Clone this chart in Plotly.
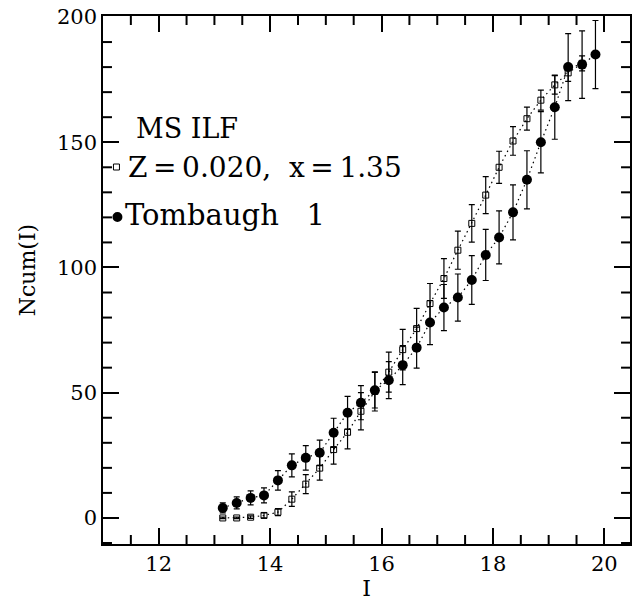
import plotly.graph_objects as go

# ---- data ----
mag = [13.15, 13.40, 13.65, 13.89, 14.14, 14.39, 14.64, 14.89, 15.14, 15.39,
       15.63, 15.88, 16.13, 16.38, 16.63, 16.87, 17.12, 17.37, 17.62, 17.87,
       18.11, 18.36, 18.61, 18.86, 19.11, 19.35, 19.60, 19.84]

tomb_n = [4, 6, 8, 9, 15, 21, 24, 26, 34, 42, 46, 51, 55, 61, 68, 78, 84, 88,
          95, 105, 112, 122, 135, 150, 164, 180, 181, 185]
tomb_err = [2.0, 2.4, 2.8, 3.0, 3.9, 4.6, 4.9, 5.1, 5.8, 6.5, 6.8, 7.1, 7.4,
            7.8, 8.2, 8.8, 9.2, 9.4, 9.7, 10.2, 10.6, 11.0, 11.6, 12.2, 12.8,
            13.4, 13.5, 13.6]

model_mag = mag[:27]
model_n = [0, 0, 0.3, 1, 2.3, 7.5, 13.5, 19.9, 27.3, 34.2, 42.6, 50.5, 58.2,
           67.2, 75.6, 85.6, 95.6, 106.9, 117.6, 128.9, 140, 150.5, 159.4,
           166.8, 172.9, 177.7, 181.5]
model_err = [0.3, 0.3, 0.5, 1.0, 1.4, 2.9, 3.8, 4.8, 5.8, 6.6, 7.4, 7.8, 8.0,
             8.1, 8.1, 8.0, 7.9, 7.6, 7.5, 7.4, 6.4, 5.7, 4.6, 4.0, 3.7, 3.4,
             3.0]

x_ticks = [12, 14, 16, 18, 20]
x_minor = [11.5, 12.5, 13, 13.5, 14.5, 15, 15.5, 16.5, 17, 17.5, 18.5, 19, 19.5]
y_ticks = [0, 50, 100, 150, 200]
y_minor = [-10, 10, 20, 30, 40, 60, 70, 80, 90, 110, 120, 130, 140, 160, 170, 180, 190]

X_RANGE = [11.0, 20.46]
Y_RANGE = [-10.4, 200.4]

FONT = "DejaVu Serif"
DOT = "1.5px,3.5px"

L, R, T, B = 103, 632, 16, 544
W, H = R - L, B - T
UX = (X_RANGE[1] - X_RANGE[0]) / W
UY = (Y_RANGE[1] - Y_RANGE[0]) / H

fig = go.Figure()

# minor inward ticks on all four sides, placed on the axes' scales
tx, ty = [], []
MINOR_LEN = 9
for v in x_minor:
    tx += [v, v, None, v, v, None]
    ty += [Y_RANGE[0], Y_RANGE[0] + MINOR_LEN * UY, None,
           Y_RANGE[1], Y_RANGE[1] - MINOR_LEN * UY, None]
for v in y_minor:
    tx += [X_RANGE[0], X_RANGE[0] + MINOR_LEN * UX, None,
           X_RANGE[1], X_RANGE[1] - MINOR_LEN * UX, None]
    ty += [v, v, None, v, v, None]
fig.add_trace(go.Scatter(x=tx, y=ty, mode="lines", line=dict(color="#000000", width=2.0),
                         connectgaps=False, hoverinfo="skip", showlegend=False))

fig.add_trace(go.Scatter(
    x=model_mag, y=model_n, mode="lines+markers",
    line=dict(color="black", width=1.2, dash=DOT),
    marker=dict(symbol="square-open", size=6, color="black", line=dict(width=1)),
    error_y=dict(type="data", array=model_err, color="black", thickness=1.2, width=3),
    showlegend=False,
))
fig.add_trace(go.Scatter(
    x=mag, y=tomb_n, mode="lines+markers",
    line=dict(color="black", width=1.2, dash=DOT),
    marker=dict(symbol="circle", size=10, color="black"),
    error_y=dict(type="data", array=tomb_err, color="black", thickness=1.2, width=3),
    showlegend=False,
))

def px(x):
    return (x - L) / W
def py(y):
    return (B - y) / H

TS = "\u2009"
legend_text = [("MS ILF", 135, 128, 27),
               ("Z" + TS + "=" + TS + "0.020,  x" + TS + "=" + TS + "1.35", 127, 168, 28),
               ("Tombaugh   1", 124, 215, 29)]
for txt, x0, y0, fs in legend_text:
    fig.add_annotation(x=px(x0), y=py(y0), xref="paper", yref="paper",
                       text=txt, showarrow=False, xanchor="left", yanchor="middle",
                       borderpad=0,
                       font=dict(family=FONT, size=fs, color="black"))

fig.add_shape(type="rect", xref="paper", yref="paper",
              x0=px(113.5), x1=px(119.5), y0=py(170), y1=py(164),
              line=dict(color="black", width=1))
fig.add_shape(type="circle", xref="paper", yref="paper",
              x0=px(112.5), x1=px(122.5), y0=py(222), y1=py(212),
              fillcolor="black", line=dict(color="black", width=0))

fig.add_annotation(x=px(27), y=py(270), xref="paper", yref="paper",
                   text="Ncum(I)", textangle=-90, showarrow=False,
                   xanchor="center", yanchor="middle",
                   font=dict(family=FONT, size=22, color="black"))

axis_common = dict(
    showgrid=False, zeroline=False, showline=True, linecolor="black", linewidth=1.5,
    mirror="allticks", ticks="inside", ticklen=16, tickwidth=2.0, tickcolor="#000000",
    tickfont=dict(family=FONT, size=21, color="black"),
)

fig.update_xaxes(
    range=X_RANGE, tickmode="array", tickvals=x_ticks,
    ticktext=[str(v) for v in x_ticks],
    title=dict(text="I", font=dict(family=FONT, size=22, color="black"), standoff=6),
    **axis_common,
)
fig.update_yaxes(
    range=Y_RANGE, tickmode="array", tickvals=y_ticks,
    ticktext=[str(v) for v in y_ticks],
    **axis_common,
)

fig.update_layout(
    width=633, height=604,
    margin=dict(l=L, r=633 - R, t=T, b=604 - B),
    paper_bgcolor="white", plot_bgcolor="white",
)

fig.write_html("out.html")
